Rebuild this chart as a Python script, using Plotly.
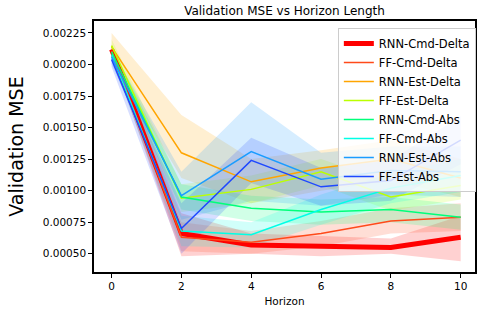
import plotly.graph_objects as go

horizon = [0, 2, 4, 6, 8, 10]
names = ["RNN-Cmd-Delta", "FF-Cmd-Delta", "RNN-Est-Delta", "FF-Est-Delta",
         "RNN-Cmd-Abs", "FF-Cmd-Abs", "RNN-Est-Abs", "FF-Est-Abs"]
colors = ["#ff0000", "#ff4a1a", "#ffa500", "#bbff00",
          "#00ff7a", "#00ffe6", "#1a9cff", "#1f48ff"]

rnn_cmd_delta = [0.00212, 0.00066, 0.00057, 0.00056, 0.00055, 0.00063]
ff_cmd_delta = [0.00211, 0.00063, 0.00059, 0.00066, 0.00076, 0.00079]
rnn_est_delta = [0.00214, 0.00130, 0.00107, 0.00118, 0.00125, 0.00110]
ff_est_delta = [0.00215, 0.00094, 0.00101, 0.00115, 0.00095, 0.00104]
rnn_cmd_abs = [0.00210, 0.00095, 0.00086, 0.00083, 0.00085, 0.00079]
ff_cmd_abs = [0.00208, 0.00068, 0.00065, 0.00085, 0.00102, 0.00112]
rnn_est_abs = [0.00206, 0.00096, 0.00131, 0.00109, 0.00116, 0.00115]
ff_est_abs = [0.00204, 0.00070, 0.00124, 0.00103, 0.00108, 0.00140]

rnn_cmd_delta_hi = [0.00216, 0.00082, 0.00066, 0.00064, 0.00062, 0.00080]
rnn_cmd_delta_lo = [0.00208, 0.00048, 0.00050, 0.00048, 0.00050, 0.00044]
ff_cmd_delta_hi = [0.00215, 0.00075, 0.00068, 0.00076, 0.00086, 0.00090]
ff_cmd_delta_lo = [0.00207, 0.00052, 0.00050, 0.00056, 0.00066, 0.00068]
rnn_est_delta_hi = [0.00225, 0.00160, 0.00125, 0.00132, 0.00140, 0.00125]
rnn_est_delta_lo = [0.00203, 0.00110, 0.00090, 0.00100, 0.00108, 0.00095]
ff_est_delta_hi = [0.00220, 0.00105, 0.00112, 0.00125, 0.00106, 0.00115]
ff_est_delta_lo = [0.00210, 0.00083, 0.00090, 0.00104, 0.00084, 0.00093]
rnn_cmd_abs_hi = [0.00214, 0.00105, 0.00096, 0.00093, 0.00095, 0.00089]
rnn_cmd_abs_lo = [0.00206, 0.00085, 0.00076, 0.00073, 0.00075, 0.00069]
ff_cmd_abs_hi = [0.00212, 0.00080, 0.00075, 0.00097, 0.00114, 0.00125]
ff_cmd_abs_lo = [0.00204, 0.00056, 0.00055, 0.00073, 0.00090, 0.00099]
rnn_est_abs_hi = [0.00212, 0.00115, 0.00170, 0.00130, 0.00135, 0.00135]
rnn_est_abs_lo = [0.00200, 0.00077, 0.00092, 0.00088, 0.00097, 0.00095]
ff_est_abs_hi = [0.00210, 0.00090, 0.00142, 0.00118, 0.00124, 0.00159]
ff_est_abs_lo = [0.00198, 0.00050, 0.00106, 0.00088, 0.00092, 0.00121]

means = [rnn_cmd_delta, ff_cmd_delta, rnn_est_delta, ff_est_delta,
         rnn_cmd_abs, ff_cmd_abs, rnn_est_abs, ff_est_abs]
highs = [rnn_cmd_delta_hi, ff_cmd_delta_hi, rnn_est_delta_hi, ff_est_delta_hi,
         rnn_cmd_abs_hi, ff_cmd_abs_hi, rnn_est_abs_hi, ff_est_abs_hi]
lows = [rnn_cmd_delta_lo, ff_cmd_delta_lo, rnn_est_delta_lo, ff_est_delta_lo,
        rnn_cmd_abs_lo, ff_cmd_abs_lo, rnn_est_abs_lo, ff_est_abs_lo]

y_ticks = [0.0005, 0.00075, 0.001, 0.00125, 0.0015, 0.00175, 0.002, 0.00225]
y_tick_text = ["0.00050", "0.00075", "0.00100", "0.00125", "0.00150", "0.00175", "0.00200", "0.00225"]
x_ticks = [0, 2, 4, 6, 8, 10]


def rgba(hexc, a):
    h = hexc.lstrip("#")
    r, g, b = int(h[0:2], 16), int(h[2:4], 16), int(h[4:6], 16)
    return f"rgba({r},{g},{b},{a})"


fig = go.Figure()
for i in range(len(names)):
    fig.add_trace(go.Scatter(x=horizon, y=highs[i], mode="lines", line=dict(width=0),
                             showlegend=False, hoverinfo="skip"))
    fig.add_trace(go.Scatter(x=horizon, y=lows[i], mode="lines", line=dict(width=0),
                             fill="tonexty", fillcolor=rgba(colors[i], 0.18),
                             showlegend=False, hoverinfo="skip"))
for i in range(len(names)):
    fig.add_trace(go.Scatter(x=horizon, y=means[i], mode="lines", name=names[i],
                             line=dict(color=colors[i], width=5 if i == 0 else 1.5)))

font = "DejaVu Sans"
fig.update_layout(
    width=477, height=314,
    margin=dict(l=94, r=0, t=21, b=42),
    paper_bgcolor="white", plot_bgcolor="white",
    font=dict(family=font, size=10.5, color="black"),
    title=dict(text="Validation MSE vs Horizon Length", x=0.5, xanchor="center",
               xref="paper", y=1 - 11 / 314, yanchor="middle",
               font=dict(family=font, size=12, color="black")),
    showlegend=True,
    legend=dict(x=0.64, y=0.972, xanchor="left", yanchor="top",
                traceorder="normal",
                bgcolor="rgba(255,255,255,0.8)", bordercolor="#cccccc", borderwidth=1,
                font=dict(family=font, size=11.5, color="black"),
                tracegroupgap=0, itemwidth=30),
)
fig.update_xaxes(range=[-0.504, 10.41], tickvals=x_ticks, ticks="outside", ticklen=4,
                 tickcolor="black", showline=True, linecolor="black", linewidth=1.5,
                 mirror=True, showgrid=False, zeroline=False,
                 title=dict(text="Horizon", font=dict(family=font, size=10.5), standoff=6),
                 tickfont=dict(family=font, size=10.5))
fig.update_yaxes(range=[0.000355, 0.002345], tickvals=y_ticks, ticktext=y_tick_text,
                 ticks="outside", ticklen=4, tickcolor="black", showline=True,
                 linecolor="black", linewidth=1.5, mirror=True, showgrid=False,
                 zeroline=False,
                 title=dict(text="Validation MSE", font=dict(family=font, size=19), standoff=14),
                 tickfont=dict(family=font, size=10.5))

fig.write_html("out.html", config={"displayModeBar": False},
               post_script="document.body.style.margin='0px';")
